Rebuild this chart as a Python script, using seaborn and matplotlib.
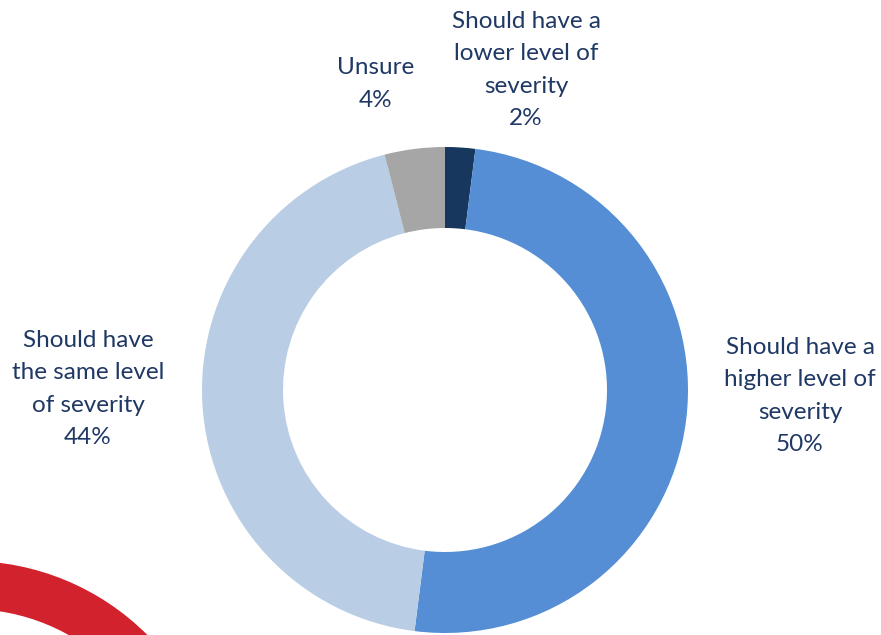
import matplotlib
matplotlib.use("Agg")
import matplotlib.pyplot as plt
from matplotlib.patches import Wedge
import seaborn as sns

# ---- data ----
categories = ["Should have a\nlower level of\nseverity",
              "Should have a\nhigher level of\nseverity",
              "Should have\nthe same level\nof severity",
              "Unsure"]
values = [2, 50, 44, 4]
colors = ["#17375E", "#558ED5", "#B9CDE5", "#A6A6A6"]
label_pos = [(526, 70), (800, 396), (88, 389), (376, 84)]  # pixel centers

sns.set_theme(style="white")
plt.rcParams["font.family"] = ["Lato", "DejaVu Sans"]

W, H = 881, 635
fig = plt.figure(figsize=(W / 100, H / 100), dpi=100)
fig.patch.set_facecolor("white")

# background axes in pixel coordinates
bg = fig.add_axes([0, 0, 1, 1])
bg.set_xlim(0, W)
bg.set_ylim(H, 0)
bg.axis("off")

# decorative red arc (bottom-left)
bg.add_patch(Wedge((-31, 813), 252, 180, 360, width=48,
                   facecolor="#D2222D", edgecolor="none"))

# donut
cx, cy, R = 445, 390, 243
ax = fig.add_axes([(cx - R) / W, (H - cy - R) / H, 2 * R / W, 2 * R / H])
ax.pie(values, colors=colors, startangle=90, counterclock=False,
       radius=1, wedgeprops=dict(width=1 - 162 / 243, edgecolor="none"))
ax.set_xlim(-1, 1)
ax.set_ylim(-1, 1)
ax.set_aspect("equal")
ax.axis("off")

text_color = "#1F3864"
for cat, v, (x, y) in zip(categories, values, label_pos):
    bg.text(x, y, f"{cat}\n{v}%", ha="center", va="center",
            fontsize=17.5, color=text_color, linespacing=1.65)

fig.savefig("out.png", dpi=100, facecolor="white")
